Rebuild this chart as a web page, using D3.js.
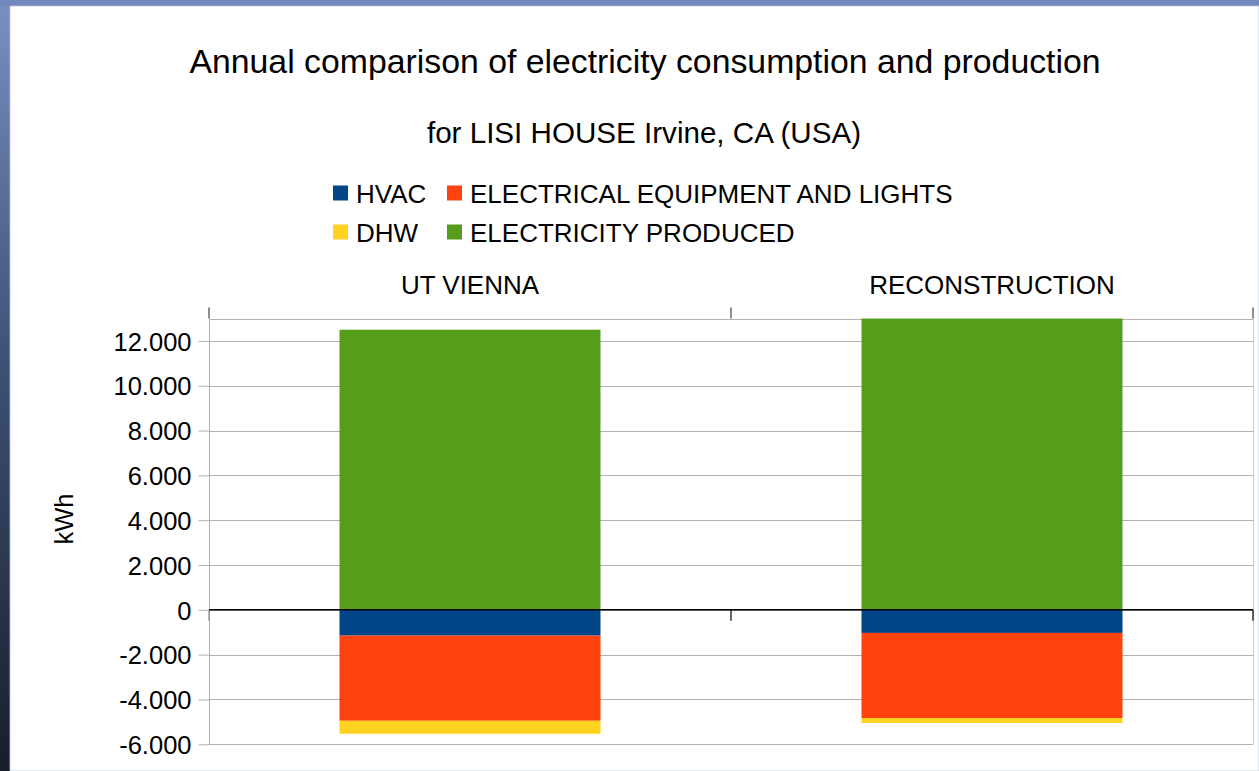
<!DOCTYPE html>
<html>
<head>
<meta charset="utf-8">
<script src="https://cdn.jsdelivr.net/npm/d3@7"></script>
<style>
  body { margin: 0; background: #fff; }
  text { font-family: "Liberation Sans", Arial, sans-serif; fill: #000; }
</style>
</head>
<body>
<script>
// chart data
const categories = ["UT VIENNA", "RECONSTRUCTION"];
const hvac = [-1150, -1030];
const equipment = [-3800, -3800];
const dhw = [-580, -220];
const produced = [12500, 13000];

const seriesNames = ["HVAC", "ELECTRICAL EQUIPMENT AND LIGHTS", "DHW", "ELECTRICITY PRODUCED"];
const seriesColors = ["#004586", "#ff420e", "#ffd320", "#579d1c"];
const yTicks = [-6000, -4000, -2000, 0, 2000, 4000, 6000, 8000, 10000, 12000];

const width = 1259;
const height = 771;
const plot = { left: 209, right: 1253, top: 318.5, bottom: 744.3 };

const svg = d3.select("body").append("svg")
  .attr("width", width)
  .attr("height", height);

// window-ish frame behind the chart
const defs = svg.append("defs");
const grad = defs.append("linearGradient")
  .attr("id", "frame")
  .attr("x1", 0).attr("y1", 0).attr("x2", 0).attr("y2", 1);
grad.append("stop").attr("offset", "0%").attr("stop-color", "#7990c2");
grad.append("stop").attr("offset", "45%").attr("stop-color", "#3f5478");
grad.append("stop").attr("offset", "100%").attr("stop-color", "#181d2a");

svg.append("rect").attr("width", width).attr("height", height).attr("fill", "url(#frame)");
svg.append("rect").attr("x", 0).attr("y", 0).attr("width", width).attr("height", 6).attr("fill", "#7189bd");
svg.append("rect").attr("x", 10).attr("y", 6).attr("width", width - 10).attr("height", height - 6)
  .attr("fill", "#fff").attr("stroke", "#b8c2d6").attr("stroke-width", 0.8);

// build the rows for stacking
const rows = categories.map((c, i) => ({
  cat: c,
  [seriesNames[0]]: hvac[i],
  [seriesNames[1]]: equipment[i],
  [seriesNames[2]]: dhw[i],
  [seriesNames[3]]: produced[i],
}));

const stacked = d3.stack()
  .keys(seriesNames)
  .offset(d3.stackOffsetDiverging)(rows);

const x = d3.scaleBand()
  .domain(categories)
  .range([plot.left, plot.right])
  .paddingInner(0.5)
  .paddingOuter(0.25);

const xOuter = d3.scaleBand()
  .domain(categories)
  .range([plot.left, plot.right]);

const y = d3.scaleLinear()
  .domain([-6000, 13000])
  .range([plot.bottom, plot.top]);

const locale = d3.formatLocale({ decimal: ",", thousands: ".", grouping: [3], currency: ["", ""], minus: "-" });
const fmt = locale.format(",d");

// gridlines
svg.append("g")
  .selectAll("line")
  .data(yTicks.concat([13000]))
  .join("line")
  .attr("x1", plot.left)
  .attr("x2", plot.right)
  .attr("y1", (d) => Math.round(y(d)) + 0.5)
  .attr("y2", (d) => Math.round(y(d)) + 0.5)
  .attr("stroke", "#b3b3b3")
  .attr("stroke-width", 1);

svg.append("line")
  .attr("x1", plot.right + 0.5).attr("x2", plot.right + 0.5)
  .attr("y1", plot.top).attr("y2", plot.bottom)
  .attr("stroke", "#c8c8c8");

// y axis
const yAxis = svg.append("g")
  .attr("transform", `translate(${plot.left + 0.5},0)`)
  .call(d3.axisLeft(y).tickValues(yTicks).tickFormat(fmt).tickSize(11).tickPadding(7));
yAxis.select(".domain").attr("stroke", "#b3b3b3").attr("d", `M0,${plot.top}V${plot.bottom}`);
yAxis.selectAll(".tick line").attr("stroke", "#b3b3b3");
yAxis.selectAll(".tick text")
  .style("font-family", "'Liberation Sans', Arial, sans-serif")
  .style("font-size", "25.5px")
  .attr("dy", "0.36em");

// bars
svg.append("g")
  .selectAll("g")
  .data(stacked)
  .join("g")
  .attr("fill", (d, i) => seriesColors[i])
  .selectAll("rect")
  .data((d) => d)
  .join("rect")
  .attr("x", (d) => x(d.data.cat))
  .attr("width", x.bandwidth())
  .attr("y", (d) => y(Math.max(d[0], d[1])))
  .attr("height", (d) => Math.abs(y(d[0]) - y(d[1])));

// zero line with category ticks below
const catBounds = [plot.left, plot.left + xOuter.bandwidth(), plot.right];
svg.append("line")
  .attr("x1", plot.left).attr("x2", plot.right)
  .attr("y1", y(0)).attr("y2", y(0))
  .attr("stroke", "#000").attr("stroke-width", 1.5);
svg.append("g")
  .selectAll("line")
  .data(catBounds)
  .join("line")
  .attr("x1", (d) => d).attr("x2", (d) => d)
  .attr("y1", y(0)).attr("y2", y(0) + 11)
  .attr("stroke", (d, i) => (i === 0 ? "#888" : "#000"))
  .attr("stroke-width", 1.2);

// category axis on top
const xAxis = svg.append("g")
  .attr("transform", `translate(0,${plot.top})`)
  .call(d3.axisTop(xOuter).tickSize(0).tickPadding(25));
xAxis.select(".domain").remove();
xAxis.selectAll(".tick text")
  .style("font-family", "'Liberation Sans', Arial, sans-serif")
  .style("font-size", "26px");
svg.append("g")
  .selectAll("line")
  .data(catBounds)
  .join("line")
  .attr("x1", (d) => d).attr("x2", (d) => d)
  .attr("y1", plot.top - 11).attr("y2", plot.top)
  .attr("stroke", "#444").attr("stroke-width", 1.2);

// axis title
svg.append("text")
  .attr("transform", `translate(73,519) rotate(-90)`)
  .attr("text-anchor", "middle")
  .style("font-size", "25.5px")
  .text("kWh");

// titles
svg.append("text")
  .attr("x", 645).attr("y", 73)
  .attr("text-anchor", "middle")
  .style("font-size", "33.8px")
  .text("Annual comparison of electricity consumption and production");

svg.append("text")
  .attr("x", 644).attr("y", 143)
  .attr("text-anchor", "middle")
  .style("font-size", "29.6px")
  .text("for LISI HOUSE Irvine, CA (USA)");

// legend, two columns
const legendItems = seriesNames.map((name, i) => ({ name, color: seriesColors[i] }));
const colX = [333, 447];
const rowY = [193, 232];
const legend = svg.append("g");
const li = legend.selectAll("g")
  .data(legendItems)
  .join("g")
  .attr("transform", (d, i) => `translate(${colX[i % 2]},${rowY[Math.floor(i / 2)]})`);
li.append("rect")
  .attr("x", 0).attr("y", -7.5)
  .attr("width", 15).attr("height", 15)
  .attr("fill", (d) => d.color);
li.append("text")
  .attr("x", 23).attr("y", 9.5)
  .style("font-size", "26px")
  .text((d) => d.name);
</script>
</body>
</html>
